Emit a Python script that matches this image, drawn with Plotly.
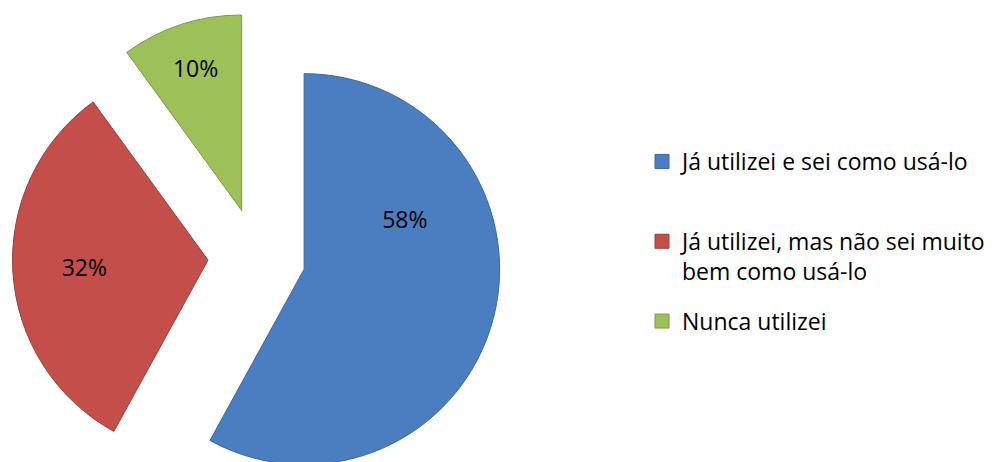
import plotly.graph_objects as go

categories = ["Já utilizei e sei como usá-lo",
              "Já utilizei, mas não sei muito<br>bem como usá-lo",
              "Nunca utilizei"]
values = [58, 32, 10]
colors = ["#4A7EC0", "#C44E4A", "#9DC058"]
edge_colors = ["#3A67A2", "#9E3C39", "#7C9A42"]

FONT = "Open Sans"
FS = 23

# legend entries: equal-height slots like the original (one blank line pads the
# single-line first entry)
legend_pad_lines = [1, 0, 0]
legend_labels = [c + "<br>&nbsp;" * n for c, n in zip(categories, legend_pad_lines)]

# fine placement of the percent labels inside the slices
pct = "%{percent:.0%}"
texttemplates = ["&nbsp;" * 2 + pct + "<br>&nbsp;" * 5,
                 pct + "&nbsp;" * 6,
                 pct]

W, H = 990, 500
R = 195.5
pull = 0.25
cx, cy = 248.8, 249.0
half = R * (1 + pull)

fig = go.Figure()
fig.add_trace(go.Pie(
    labels=categories,
    values=values,
    sort=False,
    direction="clockwise",
    rotation=0,
    pull=[pull] * len(values),
    marker=dict(colors=colors, line=dict(color=edge_colors, width=1)),
    texttemplate=texttemplates,
    textposition="inside",
    insidetextorientation="horizontal",
    textfont=dict(family=FONT, size=FS, color="#000000"),
    domain=dict(x=[(cx - half) / W, (cx + half) / W],
                y=[1 - (cy + half) / H, 1 - (cy - half) / H]),
    hovertemplate="%{label}: %{percent}<extra></extra>",
    showlegend=False,
))

# legend entries (one per slice, same colours as the slices)
for i, (lab, col, ec) in enumerate(zip(legend_labels, colors, edge_colors)):
    fig.add_trace(go.Scatter(
        x=[None], y=[None], mode="markers", name=lab,
        legendgroup=f"g{i}",
        marker=dict(symbol="square", size=14, color=col,
                    line=dict(color=ec, width=1)),
        hoverinfo="skip",
    ))

fig.update_xaxes(visible=False)
fig.update_yaxes(visible=False)

fig.update_layout(
    width=W, height=H,
    margin=dict(l=0, r=0, t=0, b=0),
    paper_bgcolor="white",
    plot_bgcolor="white",
    font=dict(family=FONT, size=FS, color="#000000"),
    legend=dict(
        x=634 / W, y=1 - 132 / H, xanchor="left", yanchor="top",
        valign="top",
        traceorder="grouped",
        tracegroupgap=17,
        font=dict(family=FONT, size=FS, color="#000000"),
        bgcolor="rgba(0,0,0,0)",
    ),
    showlegend=True,
)

fig.write_html("out.html")
